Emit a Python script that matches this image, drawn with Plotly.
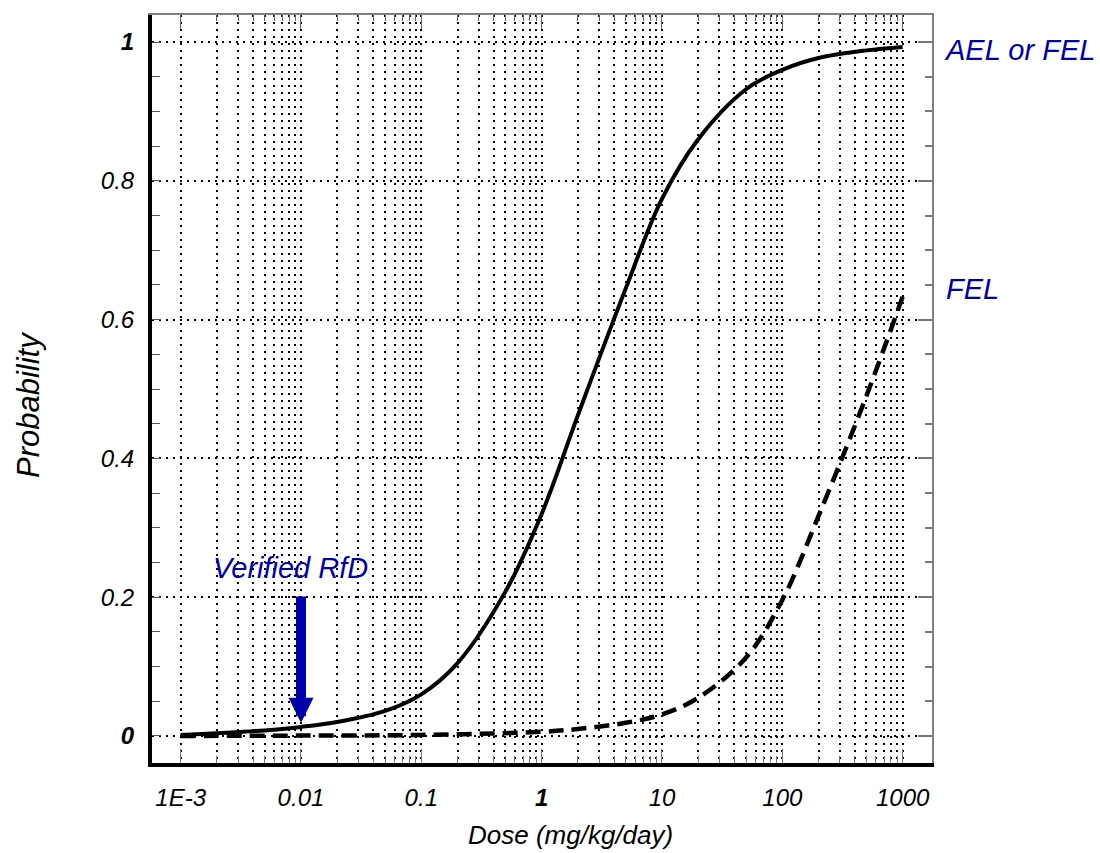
import numpy as np
import plotly.graph_objects as go

# ---- data ----
dose_solid = [0.001, 0.002, 0.005, 0.01, 0.02, 0.05, 0.1, 0.2, 0.5, 1, 2, 5, 10,
              20, 50, 100, 200, 500, 1000]
prob_solid = [0.0015, 0.004, 0.008, 0.013, 0.020, 0.036, 0.060, 0.105, 0.208, 0.32,
              0.462, 0.645, 0.774, 0.860, 0.932, 0.960, 0.977, 0.988, 0.993]

dose_dashed = [0.001, 0.01, 0.1, 1, 2, 5, 10, 20, 50, 100, 200, 500, 1000]
prob_dashed = [0.0, 0.0005, 0.0015, 0.006, 0.010, 0.019, 0.031, 0.055, 0.113, 0.196,
               0.317, 0.490, 0.633]

x_tickvals = [0.001, 0.01, 0.1, 1, 10, 100, 1000]
x_ticktext = ["1E-3", "0.01", "0.1", "<b>1</b>", "10", "100", "1000"]
x_minorvals = [m * 10.0 ** e for e in range(-3, 3) for m in range(2, 10)]

y_tickvals = [0, 0.2, 0.4, 0.6, 0.8, 1.0]
y_ticktext = ["<b>0</b>", "0.2", "0.4", "0.6", "0.8", "<b>1</b>"]
y_minorvals = [round(0.05 * i, 2) for i in range(1, 20) if i % 4 != 0]

rfd_dose = 0.01
rfd_tip = 0.019
rfd_tail = 0.203
rfd_label_y = 0.242

x_range = [-3.238, 3.244]
y_range = [-0.039, 1.039]

BLUE = "#0000A8"
FONT = "Arial, Liberation Sans, sans-serif"

fig = go.Figure()
fig.add_trace(go.Scatter(x=dose_solid, y=prob_solid, mode="lines",
                         line=dict(color="black", width=4, shape="spline", smoothing=1),
                         showlegend=False, hoverinfo="skip"))
fig.add_trace(go.Scatter(x=dose_dashed, y=prob_dashed, mode="lines",
                         line=dict(color="black", width=4.5, dash="15px,8px",
                                   shape="spline", smoothing=1),
                         showlegend=False, hoverinfo="skip"))
# invisible trace to activate the mirror axes (top / right)
fig.add_trace(go.Scatter(x=dose_solid, y=prob_solid, mode="lines", xaxis="x2", yaxis="y2",
                         line=dict(width=0), opacity=0, showlegend=False, hoverinfo="skip"))

grid_common = dict(gridcolor="black", gridwidth=2, griddash="2px,5px")

fig.update_layout(
    width=1100, height=853,
    margin=dict(l=152, r=168, t=15, b=90),
    paper_bgcolor="white", plot_bgcolor="white",
    font=dict(family=FONT, color="black"),
    xaxis=dict(
        type="log", range=x_range,
        tickmode="array", tickvals=x_tickvals, ticktext=x_ticktext,
        tickfont=dict(family=FONT, size=24, style="italic", color="black"),
        ticks="inside", ticklen=14, tickwidth=1, tickcolor="#777",
        ticklabelstandoff=10,
        showgrid=True, **grid_common,
        showline=True, linecolor="black", linewidth=4,
        zeroline=False,
        minor=dict(tickmode="array", tickvals=x_minorvals, ticks="inside", ticklen=7,
                   tickwidth=1, tickcolor="#777", showgrid=True, **grid_common),
    ),
    yaxis=dict(
        range=y_range,
        tickmode="array", tickvals=y_tickvals, ticktext=y_ticktext,
        tickfont=dict(family=FONT, size=24, style="italic", color="black"),
        ticks="inside", ticklen=9, tickwidth=1, tickcolor="#555",
        ticklabelstandoff=9,
        showgrid=True, **grid_common,
        showline=True, linecolor="black", linewidth=4,
        zeroline=False,
        minor=dict(tickmode="array", tickvals=y_minorvals, ticks="inside", ticklen=8,
                   tickwidth=1, tickcolor="#555", showgrid=False),
    ),
    xaxis2=dict(
        type="log", range=x_range, overlaying="x", side="top", anchor="y",
        tickmode="array", tickvals=x_tickvals, showticklabels=False,
        ticks="inside", ticklen=14, tickwidth=1, tickcolor="#666",
        showgrid=False, zeroline=False,
        showline=True, linecolor="#808080", linewidth=2,
        minor=dict(tickmode="array", tickvals=x_minorvals, ticks="inside", ticklen=6,
                   tickwidth=1, tickcolor="#666", showgrid=False),
    ),
    yaxis2=dict(
        range=y_range, overlaying="y", side="right", anchor="x",
        tickmode="array", tickvals=y_tickvals, showticklabels=False,
        ticks="inside", ticklen=14, tickwidth=1.5, tickcolor="#777",
        showgrid=False, zeroline=False,
        showline=True, linecolor="#808080", linewidth=2,
        minor=dict(tickmode="array", tickvals=y_minorvals, ticks="inside", ticklen=7,
                   tickwidth=1.5, tickcolor="#777", showgrid=False),
    ),
)

annots = [
    dict(text="AEL or FEL", xref="paper", x=1.0, xanchor="left", xshift=10,
         yref="y", y=prob_solid[-1], yanchor="middle", yshift=-3, showarrow=False,
         font=dict(family=FONT, size=29, color=BLUE, style="italic")),
    dict(text="FEL", xref="paper", x=1.0, xanchor="left", xshift=12,
         yref="y", y=prob_dashed[-1], yanchor="middle", yshift=8, showarrow=False,
         font=dict(family=FONT, size=29, color=BLUE, style="italic")),
    dict(text="Verified RfD", xref="x", x=np.log10(rfd_dose), xanchor="center", xshift=-10,
         yref="y", y=rfd_label_y, yanchor="middle", showarrow=False,
         font=dict(family=FONT, size=29, color=BLUE, style="italic")),
    dict(text="", xref="x", x=np.log10(rfd_dose), yref="y", y=rfd_tip,
         axref="x", ax=np.log10(rfd_dose), ayref="y", ay=rfd_tail,
         showarrow=True, arrowhead=2, arrowwidth=10, arrowsize=0.5, arrowcolor=BLUE),
    dict(text="Dose (mg/kg/day)", xref="paper", x=(570 - 152) / 780, xanchor="center",
         yref="paper", y=0, yanchor="middle", yshift=-72, showarrow=False,
         font=dict(family=FONT, size=26, color="black", style="italic")),
    dict(text="Probability", xref="paper", x=0, xanchor="center", xshift=-124,
         yref="paper", y=(763 - 405) / 748, yanchor="middle", textangle=-90, showarrow=False,
         font=dict(family=FONT, size=31, color="black", style="italic")),
]
fig.update_layout(annotations=annots)

fig.write_html("out.html")
